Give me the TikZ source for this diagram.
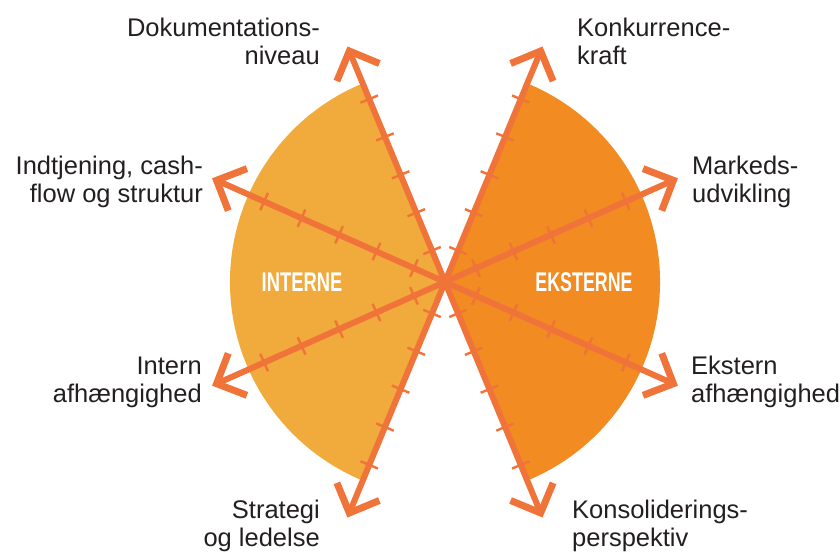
\documentclass[tikz,border=0pt]{standalone}
\usepackage{fontspec}
\setmainfont{Liberation Sans}
\usetikzlibrary{calc}
\definecolor{fanleft}{RGB}{240,171,60}
\definecolor{fanright}{RGB}{242,139,33}
\definecolor{axiscol}{RGB}{240,115,58}
\definecolor{txtcol}{RGB}{35,31,32}
\newcommand\lblR[1]{\begin{tabular}[t]{@{}r@{}}#1\end{tabular}}
\newcommand\lblL[1]{\begin{tabular}[t]{@{}l@{}}#1\end{tabular}}
\tikzset{
  axisline/.style={draw=axiscol, line width=6pt},
  tickline/.style={draw=axiscol, line width=2.4pt},
  chevron/.style={draw=axiscol, line width=7pt, line cap=butt, line join=miter, miter limit=10},
  lbl/.style={inner sep=0pt, text=txtcol, font=\fontsize{25.5}{28}\selectfont},
  fanlabel/.style={inner sep=0pt, text=white, font=\fontsize{27}{30}\selectfont\bfseries}
}
\begin{document}
\begin{tikzpicture}[x=1pt,y=1pt]
\useasboundingbox (-445,-272) rectangle (395,282);
\coordinate (c) at (0,0);
% fans
\fill[fanleft] (c) -- (112.5:215) arc[start angle=112.5, end angle=247.5, radius=215] -- cycle;
\fill[fanright] (c) -- (-67.5:215) arc[start angle=-67.5, end angle=67.5, radius=215] -- cycle;
% axes with ticks and chevrons
\foreach \a in {67.5,112.5,247.5,292.5,24,156,204,336}{
  \begin{scope}[rotate=\a]
    \coordinate (tip) at (250,0);
    \coordinate (legA) at (227,23);
    \coordinate (legB) at (227,-23);
    \draw[axisline] (c) -- (tip);
    \foreach \d in {34,75,116,157,198}{
      \draw[tickline] (\d,9.5) -- (\d,-9.5);
    }
    \draw[chevron] (legA) -- (tip) -- (legB);
  \end{scope}
}
\fill[axiscol] (c) circle (4);
% fan labels
\node[fanlabel] (interne) at (-143,0) {\scalebox{0.68}[1]{INTERNE}};
\node[fanlabel] (eksterne) at (139,0) {\scalebox{0.66}[1]{EKSTERNE}};
% axis labels
\node[lbl, anchor=base east] (doku) at (-125,245) {\lblR{Dokumentations-\\niveau}};
\node[lbl, anchor=base west] (konk) at (132,245) {\lblL{Konkurrence-\\kraft}};
\node[lbl, anchor=base east] (indt) at (-242,107) {\lblR{Indtjening, cash-\\flow og struktur}};
\node[lbl, anchor=base west] (mark) at (247,107) {\lblL{Markeds-\\udvikling}};
\node[lbl, anchor=base east] (intern) at (-243,-92) {\lblR{Intern\\afhængighed}};
\node[lbl, anchor=base west] (ekstern) at (246,-92) {\lblL{Ekstern\\afhængighed}};
\node[lbl, anchor=base east] (strat) at (-125,-236) {\lblR{Strategi\\og ledelse}};
\node[lbl, anchor=base west] (kons) at (127,-236) {\lblL{Konsoliderings-\\perspektiv}};
\end{tikzpicture}
\end{document}
